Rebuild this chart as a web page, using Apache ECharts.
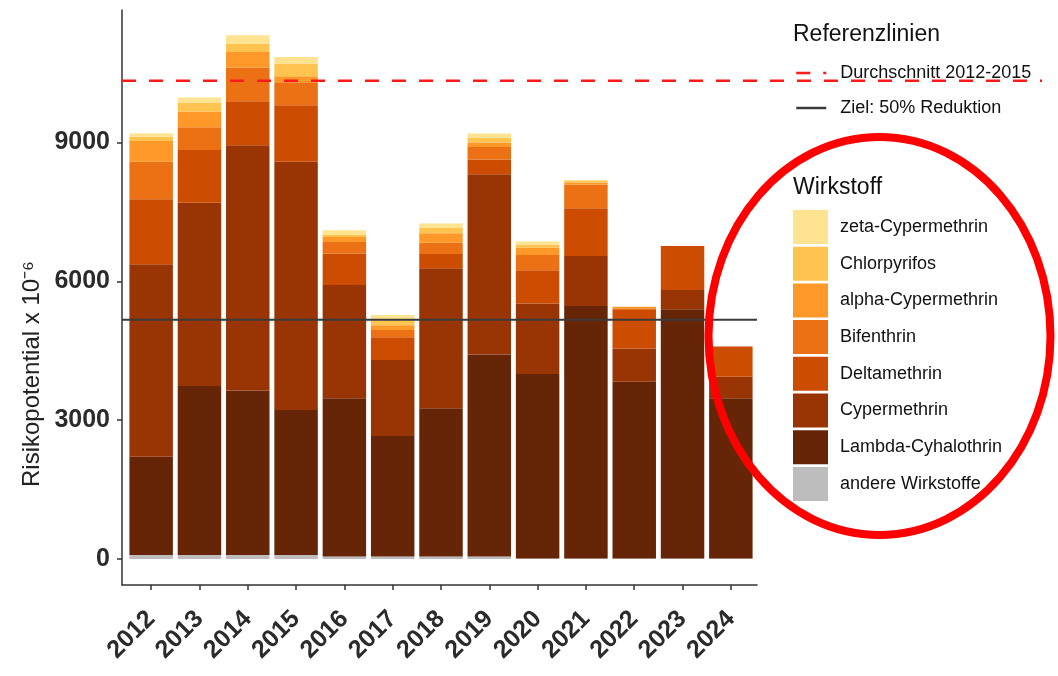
<!DOCTYPE html>
<html>
<head>
<meta charset="utf-8">
<title>Risikopotential</title>
<script src="https://cdn.jsdelivr.net/npm/echarts@6/dist/echarts.min.js"></script>
<style>
  html, body { margin: 0; padding: 0; background: #fff; }
  #main_chart { width: 1058px; height: 676px; }
</style>
</head>
<body>
<div id="main_chart"></div>
<script>
// values (Risikopotential x 10^-6)
const years = ['2012', '2013', '2014', '2015', '2016', '2017', '2018', '2019', '2020', '2021', '2022', '2023', '2024'];

const andereWirkstoffe  = [90, 90, 90, 90, 55, 55, 55, 55, 10, 10, 10, 10, 10];
const lambdaCyhalothrin = [2120, 3650, 3550, 3130, 3420, 2605, 3205, 4365, 3990, 5455, 3820, 5385, 3465];
const cypermethrin      = [4160, 3955, 5300, 5360, 2445, 1640, 3020, 3890, 1520, 1080, 720, 415, 465];
const deltamethrin      = [1400, 1140, 950, 1225, 680, 490, 310, 320, 720, 1035, 830, 950, 650];
const bifenthrin        = [810, 490, 727, 496, 250, 160, 240, 270, 330, 505, 40, 0, 0];
const alphaCypermethrin = [450, 336, 337, 130, 105, 100, 210, 100, 160, 50, 30, 0, 0];
const chlorpyrifos      = [90, 195, 181, 273, 45, 110, 110, 100, 60, 40, 0, 0, 0];
const zetaCypermethrin  = [80, 116, 180, 143, 100, 110, 100, 90, 70, 15, 0, 0, 0];

const yTicks = [0, 3000, 6000, 9000];
const baseYears = 4; // Durchschnitt 2012-2015

const fontFam = '"Liberation Sans", Arial, sans-serif';

// stacking order bottom -> top
const layers = [
  { name: 'andere Wirkstoffe', data: andereWirkstoffe, color: '#bdbdbd' },
  { name: 'Lambda-Cyhalothrin', data: lambdaCyhalothrin, color: '#662506' },
  { name: 'Cypermethrin', data: cypermethrin, color: '#993404' },
  { name: 'Deltamethrin', data: deltamethrin, color: '#cc4c02' },
  { name: 'Bifenthrin', data: bifenthrin, color: '#ec7014' },
  { name: 'alpha-Cypermethrin', data: alphaCypermethrin, color: '#fe9929' },
  { name: 'Chlorpyrifos', data: chlorpyrifos, color: '#fec44f' },
  { name: 'zeta-Cypermethrin', data: zetaCypermethrin, color: '#fee391' }
];

var totals = years.map(function (y, i) {
  return layers.reduce(function (s, l) { return s + l.data[i]; }, 0);
});
var avgRef = totals.slice(0, baseYears).reduce(function (a, b) { return a + b; }, 0) / baseYears;
var zielRef = avgRef * 0.5;

var yMin = -560, yMax = 11860;

var myChart = echarts.init(document.getElementById('main_chart'));

var series = layers.map(function (l) {
  return {
    name: l.name,
    type: 'bar',
    stack: 'total',
    xAxisIndex: 0,
    yAxisIndex: 0,
    barCategoryGap: '10%',
    data: l.data,
    itemStyle: { color: l.color },
    emphasis: { disabled: true }
  };
});

series.push({
  name: 'Ziel: 50% Reduktion',
  type: 'line',
  xAxisIndex: 1,
  yAxisIndex: 1,
  symbol: 'none',
  z: 5,
  data: [[0, zielRef], [1, zielRef]],
  lineStyle: { color: '#3a3a3a', width: 2 },
  itemStyle: { color: '#3a3a3a' }
});
series.push({
  name: 'Durchschnitt 2012-2015',
  type: 'line',
  xAxisIndex: 2,
  yAxisIndex: 2,
  symbol: 'none',
  z: 5,
  data: [[0, avgRef], [1, avgRef]],
  lineStyle: { color: '#ff1a1a', width: 2.5, type: [14, 13] },
  itemStyle: { color: '#ff1a1a' }
});

var option = {
  animation: false,
  textStyle: { fontFamily: fontFam },
  title: [
    { text: 'Referenzlinien', left: 793, top: 23, padding: 0,
      textStyle: { fontSize: 23, fontWeight: 'normal', color: '#111', fontFamily: fontFam } },
    { text: 'Wirkstoff', left: 793, top: 176, padding: 0,
      textStyle: { fontSize: 23, fontWeight: 'normal', color: '#111', fontFamily: fontFam } }
  ],
  legend: [
    {
      orient: 'vertical',
      left: 795,
      top: 64,
      padding: 0,
      itemWidth: 30,
      itemHeight: 20,
      itemGap: 17,
      selectedMode: false,
      itemStyle: { opacity: 0 },
      lineStyle: { width: 2.5 },
      data: ['Durchschnitt 2012-2015', 'Ziel: 50% Reduktion'],
      textStyle: { fontSize: 18, color: '#111', padding: [0, 0, 0, 9] }
    },
    {
      orient: 'vertical',
      left: 793,
      top: 210,
      padding: 0,
      itemWidth: 35,
      itemHeight: 34,
      itemGap: 2.7,
      icon: 'rect',
      selectedMode: false,
      data: layers.map(function (l) { return l.name; }).reverse(),
      textStyle: { fontSize: 18, color: '#111', padding: [0, 0, 0, 7] }
    }
  ],
  grid: [
    { left: 127, right: 303, top: 10, bottom: 91 },
    { left: 122, right: 301, top: 10, bottom: 91 },
    { left: 122, right: 16, top: 10, bottom: 91 }
  ],
  xAxis: [
    {
      type: 'category',
      gridIndex: 0,
      data: years,
      axisLine: { show: false, onZero: false },
      axisTick: { show: true, alignWithLabel: true, length: 5, lineStyle: { color: '#333', width: 1.5 } },
      axisLabel: {
        rotate: 45,
        margin: 30,
        fontSize: 25,
        fontWeight: 'bold',
        color: '#2b2b2b',
        fontFamily: fontFam
      }
    },
    {
      type: 'value', gridIndex: 1, min: 0, max: 1,
      axisLine: { show: true, onZero: false, lineStyle: { color: '#333', width: 1.5 } },
      axisTick: { show: false }, axisLabel: { show: false }, splitLine: { show: false }
    },
    {
      type: 'value', gridIndex: 2, min: 0, max: 1, show: false
    }
  ],
  yAxis: [
    { type: 'value', gridIndex: 0, min: yMin, max: yMax, show: false },
    {
      type: 'value', gridIndex: 1, min: yMin, max: yMax,
      axisLine: { show: true, onZero: false, lineStyle: { color: '#333', width: 1.5 } },
      axisTick: { show: true, length: 5, customValues: yTicks, lineStyle: { color: '#333', width: 1.5 } },
      axisLabel: {
        customValues: yTicks,
        margin: 12,
        fontSize: 25,
        fontWeight: 'bold',
        color: '#2b2b2b',
        fontFamily: fontFam,
        formatter: function (v) { return String(v); }
      },
      splitLine: { show: false }
    },
    { type: 'value', gridIndex: 2, min: yMin, max: yMax, show: false }
  ],
  graphic: [
    {
      type: 'text',
      x: 32,
      y: 374,
      rotation: Math.PI / 2,
      style: {
        text: 'Risikopotential x 10\u207B\u2076',
        fontSize: 24,
        fontFamily: fontFam,
        fill: '#222',
        align: 'center',
        verticalAlign: 'middle'
      }
    },
    {
      type: 'ellipse',
      z: 100,
      shape: { cx: 879.5, cy: 336, rx: 171, ry: 199 },
      style: { fill: null, stroke: '#ff0000', lineWidth: 8 }
    }
  ],
  series: series
};

myChart.setOption(option);
</script>
</body>
</html>
